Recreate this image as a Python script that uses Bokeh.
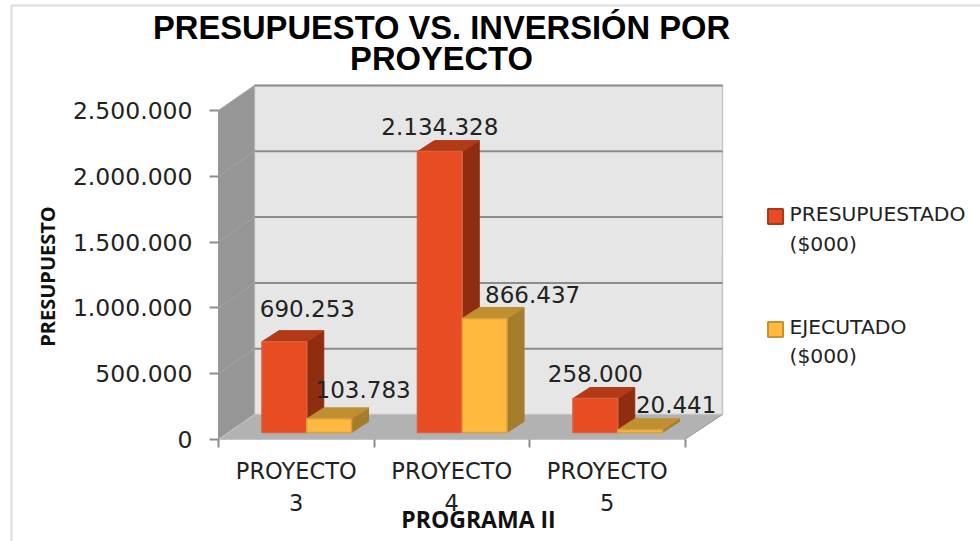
from bokeh.plotting import figure
from bokeh.embed import file_html
from bokeh.resources import INLINE
from bokeh.models import ColumnDataSource, FixedTicker, LinearAxis, Label, Range1d, BoxAnnotation
from bokeh.core.properties import value

categories = ["PROYECTO 3", "PROYECTO 4", "PROYECTO 5"]
presupuestado = [690253, 2134328, 258000]
ejecutado = [103783, 866437, 20441]
y_ticks = [0, 500000, 1000000, 1500000, 2000000, 2500000]
y_tick_labels = ["0", "500.000", "1.000.000", "1.500.000", "2.000.000", "2.500.000"]
label_pres = ["690.253", "2.134.328", "258.000"]
label_ejec = ["103.783", "866.437", "20.441"]

W, H = 980, 541
L, B = 218, 439             # canvas position of the front-left floor corner
PX_X = 155.5                # px per category
PX_Y = 329 / 2500000        # px per unit

def X(px): return (px - L) / PX_X
def Y(py): return (B - py) / PX_Y
dx = 36 / PX_X              # wall depth
dy = 25 / PX_Y
n = len(categories)
FONT = "DejaVu Sans"

p = figure(width=W, height=H, output_backend="svg", toolbar_location=None,
           x_range=Range1d(X(0), X(W)), y_range=Range1d(Y(H), Y(0)),
           min_border=0, x_axis_location=None, y_axis_location=None, outline_line_color=None,
           background_fill_color="white", border_fill_color="white")
p.grid.visible = False

# axes
ya = LinearAxis(ticker=FixedTicker(ticks=y_ticks), fixed_location=0,
                major_label_overrides={t: s for t, s in zip(y_ticks, y_tick_labels)},
                bounds=(0, 2500000), axis_line_color="#969696", major_tick_line_color="#8c8c8c",
                major_tick_line_width=2, major_tick_in=0, major_tick_out=9, minor_tick_line_color=None,
                major_label_text_font=FONT, major_label_text_font_size="23.5px",
                major_label_text_color="#222222", major_label_standoff=17)
p.add_layout(ya, "left")
xa = LinearAxis(ticker=FixedTicker(ticks=[0.5 + i for i in range(n)], minor_ticks=list(range(n + 1))), fixed_location=0,
                major_label_overrides={0.5 + i: c.split(" ")[0] for i, c in enumerate(categories)},
                bounds=(0, n), axis_line_color=None, major_tick_line_color=None,
                minor_tick_line_color="#8c8c8c", minor_tick_line_width=2, minor_tick_in=0, minor_tick_out=8,
                major_label_text_font=FONT, major_label_text_font_size="22.5px",
                major_label_text_color="#222222", major_label_standoff=10)
p.add_layout(xa, "below")
xb = LinearAxis(ticker=FixedTicker(ticks=[0.5 + i for i in range(n)]), fixed_location=0,
                major_label_overrides={0.5 + i: c.split(" ")[1] for i, c in enumerate(categories)},
                bounds=(0, n), axis_line_color=None, major_tick_line_color=None, minor_tick_line_color=None,
                major_label_text_font=FONT, major_label_text_font_size="22.5px",
                major_label_text_color="#222222", major_label_standoff=48)
p.add_layout(xb, "below")

# walls
back_top = 2500000 + dy
p.patch([dx, X(722), X(722), dx], [dy, dy, back_top, back_top], fill_color="#E6E6E6", line_color="#c4c4c4", line_width=1.5)
p.patch([0, dx, dx, 0], [0, dy, back_top, 2500000], fill_color="#969696", line_color="#b5b5b5", line_width=1)
p.patch([0, X(684), X(722), dx], [0, 0, dy, dy], fill_color="#B2B2B2", line_color="#c4c4c4", line_width=1)
for t in y_ticks[1:]:
    p.line([dx, X(722)], [t + dy, t + dy], line_color="#8c8c8c", line_width=2)
    p.line([0, dx], [t, t + dy], line_color="#a4a4a4", line_width=1)
p.line([X(684), X(722)], [0, dy], line_color="#9a9a9a", line_width=1)

# bars
bw = 44.8 / PX_X
bx = 17 / PX_X
by = 11 / PX_Y
zx = 10.5 / PX_X
zy = 7 / PX_Y
styles = [("#E84C22", "#B23A17", "#8F2D10", "#D9603A"), ("#FFB93F", "#BF8F31", "#A47D2D", "#D9A03A")]
for i in range(n):
    for s, v in enumerate((presupuestado[i], ejecutado[i])):
        front, top, side, edge = styles[s]
        x0 = i + 0.5 + zx + (s - 1) * bw
        x1 = x0 + bw
        h = zy + v
        p.patch([x1, x1 + bx, x1 + bx, x1], [zy, zy + by, h + by, h], fill_color=side, line_color=side, line_width=1)
        p.patch([x0, x0 + bx, x1 + bx, x1], [h, h + by, h + by, h], fill_color=top, line_color=top, line_width=1)
        p.quad(left=x0, right=x1, bottom=zy, top=h, fill_color=front, line_color=edge, line_width=1.5)

# data labels
off_x = [[23, 0, 0], [34, 48, 36]]
off_y = [[33, 25, 25], [29, 24, 25]]
for s, (vals, labs) in enumerate(((presupuestado, label_pres), (ejecutado, label_ejec))):
    src = ColumnDataSource(dict(
        x=[i + 0.5 + zx + (s - 1) * bw + bw / 2 for i in range(n)],
        y=[zy + v for v in vals], t=labs, ox=off_x[s], oy=[-o for o in off_y[s]]))
    p.text("x", "y", text="t", source=src, x_offset="ox", y_offset="oy", text_align="center",
           text_baseline="middle", text_font=value(FONT), text_font_size="23px", text_color="#222222")

# legend
p.scatter([X(775), X(775)], [Y(216), Y(329)], marker="square", size=15, fill_color=[styles[0][0], styles[1][0]],
          line_color=["#A93A17", "#C8922F"], line_width=2)
for txt, py in (("PRESUPUESTADO", 213), ("($000)", 243), ("EJECUTADO", 326), ("($000)", 355)):
    p.add_layout(Label(x=X(789), y=Y(py), text=txt, text_font=FONT, text_font_size="20.3px", text_color="#222222",
                       text_baseline="middle"))

def cl(txt, x, y, **kw):
    p.add_layout(Label(x=x, y=y, x_units="canvas", y_units="canvas", level="overlay", text=txt,
                       text_align="center", text_baseline="middle", **kw))

# titles
for txt, py in (("PRESUPUESTO VS. INVERSIÓN POR", 27), ("PROYECTO", 58)):
    cl(txt, 441, py, text_font="Liberation Sans", text_font_style="bold", text_font_size="32.7px", text_color="#000000")
cl("PROGRAMA II", 478, 518, text_font="Open Sans", text_font_style="bold", text_font_size="23px", text_color="#111111")
cl("PRESUPUESTO", 47, 276, angle=90, angle_units="deg", text_font="Open Sans", text_font_style="bold",
   text_font_size="20px", text_color="#111111")

# outer chart border (only the top and left edges fall inside the picture)
p.add_layout(BoxAnnotation(left=11, right=1000, top=5, bottom=600, left_units="canvas", right_units="canvas",
                           top_units="canvas", bottom_units="canvas", fill_alpha=0, line_color="#8c8c8c",
                           line_width=2, level="overlay"))

open("out.html", "w").write(file_html(p, INLINE))
